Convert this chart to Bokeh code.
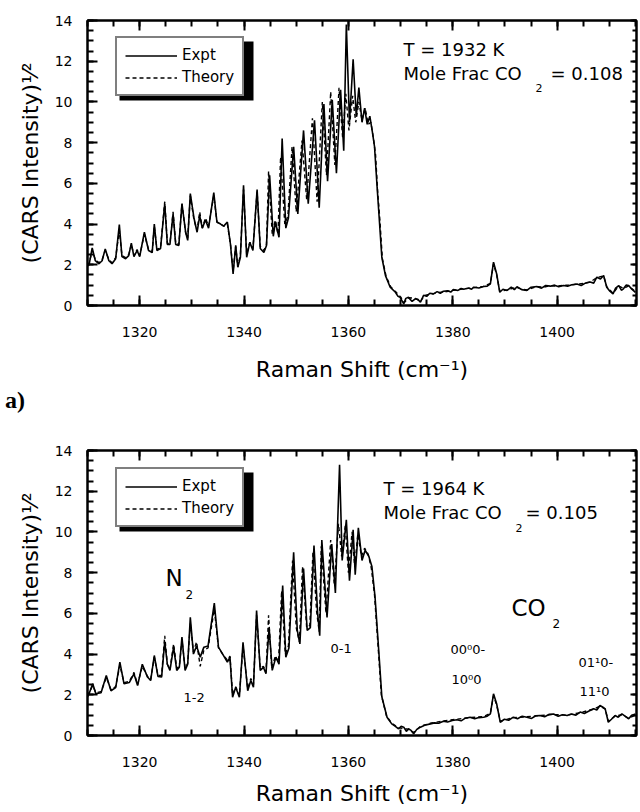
from bokeh.plotting import figure
from bokeh.models import (Range1d, LinearAxis, SingleIntervalTicker, Label, Legend,
                          LegendItem, BoxAnnotation, CustomJSTickFormatter, Div)
from bokeh.layouts import column
from bokeh.embed import file_html
from bokeh.resources import INLINE

# ---------------- data ----------------
x_limits = [1310, 1415.2]
y_limits = [0, 14]
x_tick_step = 20
y_tick_step = 2

top_expt_x = [1310.0,1310.3,1310.9,1311.5,1312.2,1312.8,1313.4,1314.1,1314.7,1315.4,
              1316.1,1316.6,1317.3,1317.9,1318.4,1318.9,1319.5,1320.0,1320.9,1321.7,
              1322.4,1322.8,1323.3,1324.0,1324.8,1325.3,1325.8,1326.4,1326.9,1327.5,
              1328.1,1328.8,1329.2,1329.7,1330.4,1331.0,1331.5,1332.0,1332.6,1333.2,
              1334.2,1334.8,1335.5,1336.1,1336.8,1337.4,1337.9,1338.4,1338.8,1339.3,
              1339.9,1340.5,1341.1,1341.7,1342.5,1343.1,1343.8,1344.3,1344.9,1345.6,
              1346.0,1346.7,1347.3,1348.0,1348.5,1349.5,1350.3,1351.4,1352.3,1353.5,
              1354.4,1355.3,1356.0,1356.9,1357.7,1358.5,1359.1,1359.6,1360.2,1360.9,
              1361.5,1362.0,1362.6,1363.1,1363.6,1364.1,1364.6,1365.0,1365.5,1365.8,
              1366.4,1367.1,1368.0,1369.0,1369.5,1369.9,1370.6,1371.0,1371.5,1372.2,
              1372.8,1373.3,1373.8,1374.4,1375.0,1375.6,1376.3,1377.0,1377.6,1378.2,
              1379.0,1379.6,1380.1,1381.0,1381.6,1382.1,1383.0,1383.6,1384.0,1385.0,
              1385.9,1386.6,1387.2,1387.8,1388.4,1389.0,1389.6,1390.4,1391.2,1391.8,
              1392.3,1393.2,1394.2,1395.0,1396.1,1397.0,1397.8,1398.7,1399.5,1400.3,
              1401.2,1402.0,1402.8,1403.8,1404.6,1405.4,1406.3,1407.0,1407.6,1408.3,
              1408.9,1409.5,1410.1,1410.7,1411.2,1411.8,1412.3,1412.7,1413.2,1413.7,
              1414.3,1415.0]
top_expt_y = [1.95,2.0,2.83,2.2,2.05,2.2,2.78,2.2,2.05,2.3,
              3.98,2.4,2.3,2.45,3.06,2.4,2.7,2.4,3.6,2.7,
              2.6,4.0,2.7,2.8,5.0,3.0,3.0,4.5,3.0,2.95,
              5.0,3.6,3.2,5.5,4.3,3.6,4.4,3.8,4.2,3.8,
              5.55,4.1,4.0,3.9,4.1,3.0,1.55,2.95,1.88,2.37,
              5.9,2.37,3.1,2.7,5.7,2.8,2.6,2.95,6.4,3.4,
              4.1,3.35,8.2,3.8,4.3,7.8,4.5,8.6,5.0,9.1,
              4.8,9.9,6.1,10.1,6.5,10.6,7.6,13.8,9.0,12.1,
              9.3,10.7,9.0,9.7,8.9,9.3,8.5,7.8,5.8,4.67,
              2.37,1.47,0.9,0.65,0.45,0.4,0.08,0.35,0.4,0.2,
              0.33,0.3,0.16,0.5,0.45,0.6,0.57,0.68,0.6,0.7,
              0.72,0.66,0.78,0.74,0.84,0.8,0.86,0.8,0.9,0.86,
              0.93,0.95,1.06,2.13,1.56,0.65,0.8,0.74,0.9,0.78,
              0.92,0.78,0.74,0.9,0.93,0.85,0.98,0.95,1.0,0.92,
              0.98,0.95,1.02,1.06,0.98,1.1,1.15,1.1,1.39,1.3,
              1.47,0.9,0.7,0.57,0.85,0.98,0.75,0.82,1.0,0.98,
              0.8,0.65]

top_theory_x = [1310.0,1310.3,1310.9,1311.5,1312.2,1312.8,1313.4,1314.1,1314.7,1315.4,
                1316.1,1316.6,1317.3,1317.9,1318.4,1318.9,1319.5,1320.0,1320.9,1321.7,
                1322.4,1322.8,1323.3,1324.0,1324.8,1325.3,1325.8,1326.4,1326.9,1327.5,
                1328.1,1328.8,1329.2,1329.7,1330.4,1331.0,1331.5,1332.0,1332.6,1333.2,
                1334.2,1334.8,1335.5,1336.1,1336.8,1337.4,1337.9,1338.4,1338.8,1339.3,
                1339.9,1340.5,1341.1,1341.7,1342.5,1343.1,1343.8,1344.3,1344.7,1345.4,
                1346.0,1346.5,1347.0,1347.8,1348.4,1349.2,1350.0,1351.1,1352.0,1353.1,
                1354.0,1355.0,1355.8,1356.6,1357.4,1358.2,1358.9,1359.5,1360.1,1360.8,
                1361.4,1362.0,1362.6,1363.2,1363.8,1364.3,1364.8,1365.2,1365.6,1366.0,
                1366.5,1367.2,1368.1,1369.1,1370.0,1370.7,1371.6,1372.8,1373.8,1374.5,
                1375.4,1376.3,1377.2,1378.2,1379.1,1380.1,1381.1,1382.1,1383.0,1384.0,
                1385.0,1385.9,1387.2,1387.8,1388.4,1389.0,1390.4,1391.4,1392.3,1393.3,
                1394.2,1395.2,1396.1,1397.4,1398.7,1400.0,1401.2,1402.5,1403.8,1405.0,
                1406.3,1407.6,1408.9,1409.5,1410.7,1411.8,1412.7,1413.7,1415.0]
top_theory_y = [1.95,2.05,2.7,2.25,2.1,2.25,2.7,2.25,2.1,2.35,
                3.7,2.45,2.35,2.5,3.0,2.45,2.75,2.45,3.5,2.75,
                2.65,3.9,2.75,2.85,5.1,3.05,3.05,4.6,3.05,3.0,
                5.0,3.6,3.3,5.4,4.2,3.7,4.6,3.8,4.3,3.9,
                5.4,4.1,4.0,3.9,4.0,3.0,1.7,2.9,1.9,2.5,
                5.7,2.5,3.1,2.8,5.6,2.9,2.7,3.0,6.6,3.5,
                4.2,3.5,7.3,4.0,4.4,7.8,4.6,8.1,5.2,9.2,
                5.1,10.0,6.4,10.5,6.9,10.7,8.2,10.4,8.6,10.3,
                9.0,10.0,9.1,9.7,8.9,9.0,8.2,7.4,5.6,4.3,
                2.3,1.45,0.92,0.66,0.42,0.15,0.38,0.35,0.2,0.48,
                0.55,0.58,0.64,0.66,0.7,0.75,0.78,0.82,0.84,0.88,
                0.9,0.94,1.08,2.05,1.5,0.7,0.76,0.84,0.88,0.8,
                0.76,0.86,0.92,0.9,0.97,0.95,0.99,1.0,1.05,1.08,
                1.15,1.37,1.45,0.92,0.6,0.96,0.84,0.96,0.68]

bot_expt_x = [1310.0,1310.3,1311.0,1311.6,1312.6,1313.6,1314.5,1315.4,1316.2,1317.0,
              1318.0,1318.9,1319.6,1320.5,1321.5,1322.1,1322.8,1323.5,1324.2,1324.8,
              1325.3,1325.8,1326.5,1327.1,1327.6,1328.1,1328.7,1329.2,1329.7,1330.3,
              1330.9,1331.6,1332.3,1333.1,1334.3,1335.1,1335.9,1336.8,1337.3,1337.8,
              1338.4,1339.1,1339.8,1340.7,1341.3,1341.8,1342.4,1343.1,1343.7,1344.2,
              1344.8,1345.4,1346.1,1346.7,1347.4,1348.0,1348.6,1349.5,1350.2,1350.7,
              1351.4,1352.1,1352.7,1353.4,1354.1,1354.5,1354.9,1355.9,1356.8,1357.5,
              1358.3,1358.8,1359.6,1360.2,1360.9,1361.3,1361.9,1362.6,1363.2,1363.9,
              1364.5,1365.1,1365.8,
              1366.4,1367.4,1368.3,1369.0,1369.6,1370.1,1370.6,1371.1,1371.5,1372.0,
              1372.5,1373.1,1373.8,1374.6,1375.7,1376.5,1377.3,1378.2,1379.0,1379.9,
              1380.8,1381.6,1382.4,1383.3,1384.2,1385.0,1385.9,1386.6,1387.2,1387.8,
              1388.4,1389.1,1389.9,1390.7,1391.6,1392.4,1393.3,1394.2,1395.1,1395.9,
              1396.7,1397.6,1398.5,1399.3,1400.2,1401.0,1401.9,1402.7,1403.6,1404.4,
              1405.2,1406.1,1407.0,1407.6,1408.2,1408.7,1409.2,1409.8,1410.4,1411.1,
              1411.7,1412.4,1413.0,1413.7,1414.3,1415.0]
bot_expt_y = [1.9,2.05,2.54,2.05,2.1,2.95,2.2,2.35,3.6,2.54,
              2.6,3.03,2.45,3.5,2.87,2.7,3.93,2.9,2.87,4.6,
              3.5,3.2,4.34,3.2,3.35,4.83,3.2,3.5,5.81,4.0,
              4.4,3.85,4.34,4.4,6.5,4.34,4.0,3.6,3.85,1.88,
              2.37,1.88,4.58,2.2,2.7,2.37,6.14,3.2,3.35,3.03,
              5.3,3.2,3.85,3.5,7.37,3.85,4.3,9.0,5.16,4.5,
              8.2,5.16,5.3,9.33,6.0,4.9,9.6,5.8,9.4,7.0,
              13.3,8.6,10.6,7.6,10.1,7.9,10.2,8.6,9.1,8.8,
              8.3,6.8,4.2,
              1.9,0.9,0.57,0.45,0.33,0.45,0.41,0.2,0.33,0.25,
              0.08,0.3,0.41,0.5,0.57,0.62,0.6,0.7,0.66,0.74,
              0.77,0.72,0.85,0.9,0.82,0.88,0.9,0.95,1.06,2.05,
              1.56,0.65,0.8,0.75,0.9,0.82,0.95,0.9,0.84,0.97,
              0.98,0.92,1.04,1.06,0.95,1.02,0.98,1.06,1.0,1.15,
              1.08,1.2,1.31,1.25,1.47,1.4,1.31,0.65,0.8,0.98,
              0.9,1.06,0.95,0.82,1.0,1.06]

bot_theory_x = [1310.0,1310.3,1311.0,1311.6,1312.6,1313.6,1314.5,1315.4,1316.2,1317.0,
                1318.0,1318.9,1319.6,1320.5,1321.5,1322.1,1322.8,1323.5,1324.2,1324.8,
                1325.3,1325.8,1326.5,1327.1,1327.6,1328.1,1328.7,1329.2,1329.7,1330.3,
                1330.9,1331.6,1332.3,1333.1,1334.3,1335.1,1335.9,1336.8,1337.3,1337.8,
                1338.4,1339.1,1339.8,1340.7,1341.3,1341.8,1342.4,1343.1,1343.7,1344.2,
                1344.7,1345.3,1346.0,1346.6,1347.2,1347.9,1348.5,1349.3,1350.0,1350.6,
                1351.2,1352.0,1352.6,1353.2,1353.9,1354.4,1354.8,1355.7,1356.6,1357.3,
                1358.1,1358.7,1359.4,1360.0,1360.7,1361.2,1361.8,1362.5,1363.1,1363.8,
                1364.4,1365.0,1365.7,1366.3,1367.3,1368.3,1369.6,1370.6,1371.5,1372.5,
                1373.8,1375.7,1378.2,1380.8,1383.3,1385.9,1387.2,1387.8,1388.4,1389.1,
                1391.6,1394.2,1396.7,1399.3,1401.9,1404.4,1407.0,1408.2,1409.2,1409.8,
                1411.1,1412.4,1413.7,1415.0]
bot_theory_y = [1.95,2.1,2.45,2.1,2.15,2.85,2.25,2.4,3.45,2.6,
                2.65,3.1,2.5,3.4,2.9,2.75,3.85,2.95,2.95,4.9,
                3.5,3.25,4.5,3.3,3.4,4.7,3.3,3.55,5.5,4.1,
                4.6,3.4,4.2,4.3,6.2,4.3,4.0,3.7,3.9,2.0,
                2.4,1.95,4.4,2.3,2.8,2.5,5.9,3.3,3.4,3.1,
                5.9,3.3,3.9,3.6,7.1,4.0,4.4,8.6,5.3,4.6,
                8.3,5.3,5.4,9.0,6.1,5.1,9.3,6.0,9.6,7.4,
                10.4,8.8,10.3,8.0,10.0,8.3,9.9,8.8,9.2,8.9,
                8.2,6.9,4.3,2.0,0.95,0.6,0.38,0.35,0.3,0.15,
                0.45,0.6,0.72,0.8,0.88,0.93,1.1,1.95,1.5,0.7,
                0.88,0.92,0.98,1.03,1.0,1.12,1.3,1.45,1.3,0.7,
                0.95,1.02,0.85,1.0]

series_labels = ["Expt", "Theory"]
x_title = "Raman Shift (cm\u207b\u00b9)"
y_title = "(CARS Intensity)\u00b9\u2044\u00b2"
top_conditions = ["T = 1932 K", "Mole Frac CO", "2", "= 0.108"]
bot_conditions = ["T = 1964 K", "Mole Frac CO", "2", "= 0.105"]

# ---------------- styling / layout ----------------
FONT = "DejaVu Sans"
PAGE_W = 640
FRAME_L, FRAME_R = 87, 636          # canvas pixels


def make_panel(fig_top, height, frame_top, frame_bottom, ex_x, ex_y, th_x, th_y,
               legend_bottom, xlabel_standoff):
    p = figure(width=PAGE_W, height=height,
               x_range=Range1d(*x_limits), y_range=Range1d(*y_limits),
               output_backend="svg", toolbar_location=None,
               x_axis_location=None, y_axis_location=None,
               min_border_left=FRAME_L, min_border_right=PAGE_W - FRAME_R,
               min_border_top=frame_top - fig_top,
               min_border_bottom=fig_top + height - frame_bottom)
    p.grid.visible = False
    p.outline_line_color = "black"
    p.outline_line_width = 2
    p.background_fill_color = "white"
    p.border_fill_color = "white"

    blank = CustomJSTickFormatter(code="return ''")
    for loc in ["below", "left", "above", "right"]:
        if loc in ("below", "above"):
            ticker = SingleIntervalTicker(interval=x_tick_step, num_minor_ticks=4)
        else:
            ticker = SingleIntervalTicker(interval=y_tick_step, num_minor_ticks=4)
        ax = LinearAxis(ticker=ticker,
                        axis_line_width=2, axis_line_color="black",
                        major_tick_line_width=2, major_tick_line_color="black",
                        minor_tick_line_width=2, minor_tick_line_color="black",
                        major_tick_in=10, minor_tick_in=6,
                        major_tick_out=0, minor_tick_out=0,
                        major_label_text_font=FONT, major_label_text_font_size="14px",
                        major_label_text_color="black",
                        axis_label_text_font=FONT, axis_label_text_font_size="22px",
                        axis_label_text_font_style="normal", axis_label_text_color="black")
        if loc == "below":
            ax.major_label_standoff = 21
            ax.axis_label = x_title
            ax.axis_label_standoff = xlabel_standoff
        elif loc == "left":
            ax.major_label_standoff = 15
            ax.axis_label = y_title
            ax.axis_label_standoff = 9
        else:
            ax.formatter = blank
            ax.major_label_text_font_size = "1px"
            ax.major_label_standoff = 0
            if loc == "right":
                ax.major_tick_in = 6
                ax.minor_tick_in = 4
        p.add_layout(ax, loc)

    r_th = p.line(th_x, th_y, line_color="black", line_width=1.4, line_dash="4 3")
    r_ex = p.line(ex_x, ex_y, line_color="black", line_width=1.6)

    def to_data(px, py):
        x = x_limits[0] + (px - FRAME_L) * (x_limits[1] - x_limits[0]) / (FRAME_R - FRAME_L)
        y = y_limits[0] + (frame_bottom - py) * (y_limits[1] - y_limits[0]) / (frame_bottom - frame_top)
        return x, y

    # legend drop shadow, then the legend box
    leg_h, leg_w = 59, 134
    leg_top_px = frame_bottom - legend_bottom - leg_h
    l, t = to_data(FRAME_L + 28 + 4, leg_top_px + 4)
    r, b = to_data(FRAME_L + 28 + leg_w + 4, leg_top_px + leg_h + 4)
    p.add_layout(BoxAnnotation(left=l, right=r, top=t, bottom=b, fill_color="black",
                               fill_alpha=1, line_color=None))
    legend = Legend(items=[LegendItem(label=series_labels[0], renderers=[r_ex]),
                           LegendItem(label=series_labels[1], renderers=[r_th])],
                    location=(28, legend_bottom),
                    label_text_font=FONT, label_text_font_size="15px",
                    label_text_color="black",
                    glyph_width=52, glyph_height=15, label_height=15, label_standoff=5,
                    spacing=4, padding=8, margin=0,
                    border_line_color="black", border_line_width=2,
                    background_fill_color="white", background_fill_alpha=1)
    p.add_layout(legend)
    return p, to_data


def add_text(p, to_data, px, py, text, size):
    x, y = to_data(px, py)
    p.add_layout(Label(x=x, y=y, text=text, text_font=FONT, text_font_size=f"{size}px",
                       text_align="left", text_baseline="middle", text_color="black"))


# ---------------- panel a (top) ----------------
TOP_H = 386
p1, d1 = make_panel(0, TOP_H, 20, 305, top_expt_x, top_expt_y, top_theory_x, top_theory_y,
                    209, 17)
add_text(p1, d1, 403, 49, top_conditions[0], 18)
add_text(p1, d1, 403, 73, top_conditions[1], 18)
add_text(p1, d1, 535, 87, top_conditions[2], 11)
add_text(p1, d1, 550, 73, top_conditions[3], 18)

# ---------------- panel label ----------------
DIV_H = 28
tag = Div(text="a)", width=PAGE_W, height=DIV_H, margin=0,
          styles={"font-family": "Liberation Serif", "font-weight": "bold",
                  "font-size": "24px", "line-height": "28px", "padding-left": "5px",
                  "color": "black"})

# ---------------- panel b (bottom) ----------------
BOT_TOP = TOP_H + DIV_H
BOT_H = 810 - BOT_TOP
p2, d2 = make_panel(BOT_TOP, BOT_H, 450, 735, bot_expt_x, bot_expt_y, bot_theory_x, bot_theory_y,
                    208, 11)
add_text(p2, d2, 383, 488, bot_conditions[0], 18)
add_text(p2, d2, 383, 512, bot_conditions[1], 18)
add_text(p2, d2, 515, 527, bot_conditions[2], 11)
add_text(p2, d2, 525, 512, bot_conditions[3], 18)
add_text(p2, d2, 165, 577, "N", 23)
add_text(p2, d2, 185, 594, "2", 12)
add_text(p2, d2, 511, 607, "CO", 23)
add_text(p2, d2, 552, 623, "2", 12)
add_text(p2, d2, 330, 648, "0-1", 13)
add_text(p2, d2, 183, 697, "1-2", 13)
add_text(p2, d2, 450, 649, "00\u20700-", 13)
add_text(p2, d2, 451, 679, "10\u20700", 13)
add_text(p2, d2, 578, 662, "01\u00b90-", 13)
add_text(p2, d2, 579, 691, "11\u00b90", 13)

layout = column(p1, tag, p2, spacing=0)
open("out.html", "w").write(file_html(layout, INLINE))
